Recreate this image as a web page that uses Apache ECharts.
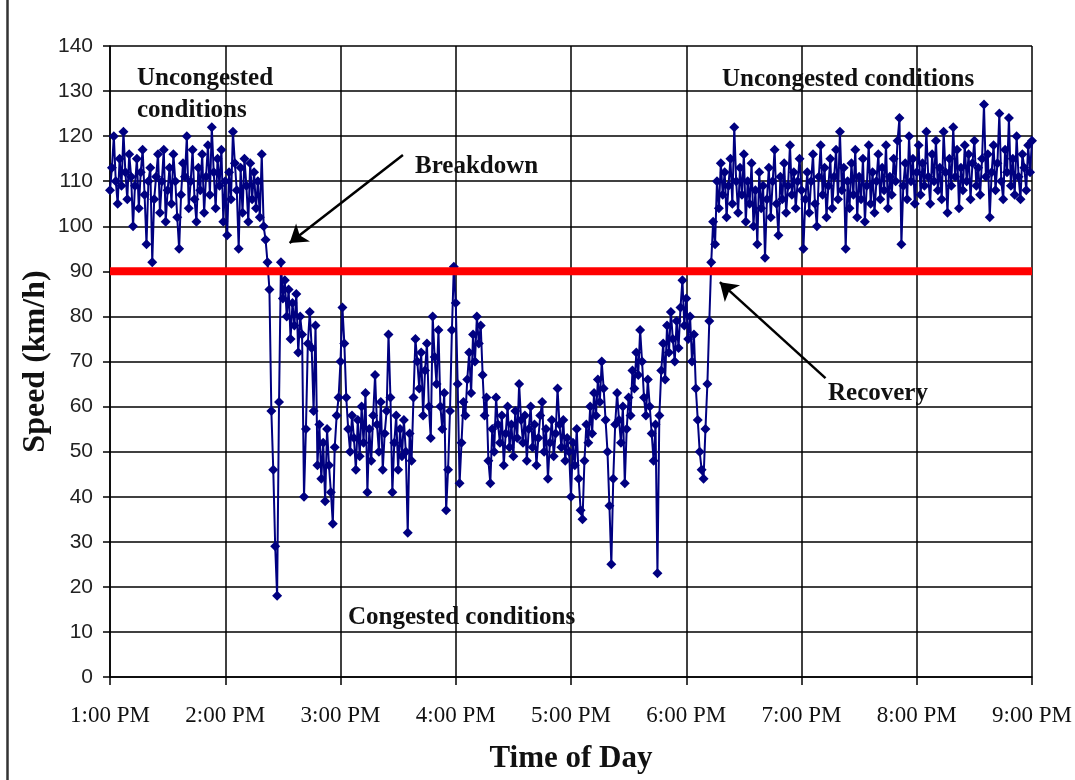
<!DOCTYPE html>
<html>
<head>
<meta charset="utf-8">
<script src="https://cdn.jsdelivr.net/npm/echarts@6/dist/echarts.min.js"></script>
<style>
  html, body { margin: 0; padding: 0; background: #fff; }
  #chart { width: 1075px; height: 780px; }
</style>
</head>
<body>
<div id="chart"></div>
<script>
// Tick labels (x axis: minutes after 1:00 PM, one label per hour)
const timeLabels = ['1:00 PM','2:00 PM','3:00 PM','4:00 PM','5:00 PM','6:00 PM','7:00 PM','8:00 PM','9:00 PM'];

// Speed (km/h), one reading per minute, split by hour
const speed1pm = [108,113,120,110,105,115,109,121,112,106, 116,111,100,109,115,104,112,117,107,96,
                  110,113,92,106,111,116,103,110,117,101, 108,113,105,116,110,102,95,107,114,111,
                  120,104,110,117,106,101,113,108,116,103, 111,118,107,122,112,104,115,109,117,101];
const speed2pm = [110,98,112,106,121,114,108,95,113,103, 115,109,101,114,106,112,104,110,102,116,
                  100,97,92,86,59,46,29,18,61,92, 84,88,80,86,75,83,78,85,72,80,
                  76,40,55,74,81,73,59,78,47,56, 44,52,39,55,47,41,34,51,58,62];
const speed3pm = [70,82,74,62,55,50,58,53,46,57, 49,60,52,63,41,55,48,58,67,56,
                  50,61,46,54,59,76,62,41,52,58, 46,55,49,57,50,32,54,48,62,75,
                  70,64,72,58,68,74,60,53,80,71, 65,77,60,55,63,37,46,59,77,91];
const speed4pm = [83,65,43,52,61,58,66,72,63,76, 70,80,74,78,67,58,62,48,43,55,
                  50,62,56,52,58,47,54,60,51,56, 49,59,53,65,57,52,58,48,55,60,
                  51,56,47,53,58,61,50,55,44,52, 57,49,54,64,56,51,57,48,53,50];
const speed5pm = [40,52,47,55,44,37,35,48,56,52, 60,54,63,58,66,61,70,64,57,50,
                  38,25,44,56,63,57,52,60,43,55, 62,58,68,64,72,67,77,70,62,58,
                  66,60,54,48,56,23,58,68,74,66, 78,72,81,75,70,79,73,82,88,78];
const speed6pm = [84,75,80,70,76,64,57,50,46,44, 55,65,79,92,101,96,110,104,114,107,
                  112,102,109,115,105,122,110,103,113,107, 116,101,110,105,114,100,108,96,112,104,
                  109,93,106,113,102,110,117,105,98,111, 106,114,103,109,118,107,112,104,110,115];
const speed7pm = [108,95,106,112,103,110,116,105,100,111, 118,107,113,102,109,115,104,111,117,106,
                  121,108,113,95,110,104,114,107,117,102, 111,106,115,101,109,118,105,112,103,110,
                  116,106,113,108,118,104,111,107,115,110, 119,124,96,109,114,106,120,110,115,105];
const speed8pm = [112,118,107,114,109,121,111,105,116,110, 119,108,113,106,121,112,103,115,109,122,
                  111,117,104,113,108,118,110,116,106,114, 119,109,113,107,115,127,111,116,102,112,
                  118,108,114,125,110,106,117,112,124,109, 115,107,120,111,106,116,113,108,118,112,
                  119];

const threshold = 90;

const speeds = [].concat(speed1pm, speed2pm, speed3pm, speed4pm, speed5pm, speed6pm, speed7pm, speed8pm);
const points = speeds.map((v, i) => [i, v]);

const serif = '"Liberation Serif", "Times New Roman", serif';
const sans = '"Liberation Sans", Arial, sans-serif';

const chart = echarts.init(document.getElementById('chart'), null, { renderer: 'canvas' });

function note(text, left, cy) {
  return {
    type: 'text', left: left, top: cy - 13, z: 100,
    style: { text: text, font: 'bold 25px ' + serif, fill: '#111' }
  };
}

chart.setOption({
  animation: false,
  backgroundColor: '#fff',
  grid: { left: 110, right: 43, top: 46, bottom: 103, containLabel: false },
  xAxis: {
    type: 'value', min: 0, max: 480, interval: 60,
    name: 'Time of Day', nameLocation: 'middle', nameGap: 66, nameMoveOverlap: false,
    nameTextStyle: { fontFamily: serif, fontWeight: 'bold', fontSize: 31, color: '#111' },
    axisLine: { show: true, onZero: false, lineStyle: { color: '#000', width: 1.5 } },
    axisTick: { show: true, inside: false, length: 8, lineStyle: { color: '#000', width: 1.5 } },
    axisLabel: {
      margin: 27, fontFamily: serif, fontSize: 23, color: '#111',
      formatter: v => timeLabels[Math.round(v / 60)]
    },
    splitLine: { show: true, lineStyle: { color: '#000', width: 1.5 } }
  },
  yAxis: {
    type: 'value', min: 0, max: 140, interval: 10,
    name: 'Speed (km/h)', nameLocation: 'middle', nameGap: 58, nameRotate: 90, nameMoveOverlap: false,
    nameTextStyle: { fontFamily: serif, fontWeight: 'bold', fontSize: 32, color: '#111' },
    axisLine: { show: true, lineStyle: { color: '#000', width: 1.5 } },
    axisTick: { show: true, inside: false, length: 7, lineStyle: { color: '#000', width: 1.5 } },
    axisLabel: { margin: 17, fontFamily: sans, fontSize: 21, color: '#222' },
    splitLine: { show: true, lineStyle: { color: '#000', width: 1.5 } }
  },
  series: [
    {
      type: 'line', data: points,
      symbol: 'diamond', symbolSize: 10, showSymbol: true, showAllSymbol: true,
      lineStyle: { color: '#000080', width: 2 },
      itemStyle: { color: '#000080' },
      z: 3, silent: true
    },
    {
      type: 'line', data: [[0, threshold], [480, threshold]],
      symbol: 'none', lineStyle: { color: '#ff0000', width: 8 },
      z: 5, silent: true,
      markLine: {
        silent: true, animation: false,
        symbol: ['none', 'arrow'], symbolSize: 17,
        label: { show: false },
        lineStyle: { color: '#000', width: 2.5, type: 'solid' },
        data: [
          [{ coord: [152.5, 115.8] }, { coord: [93.5, 96.3] }],
          [{ coord: [372.5, 66.3] }, { coord: [317.5, 87.6] }]
        ]
      }
    }
  ],
  graphic: [
    { type: 'line', shape: { x1: 7.5, y1: 0, x2: 7.5, y2: 780 }, style: { stroke: '#333', lineWidth: 2.5 } },
    note('Uncongested', 137, 79),
    note('conditions', 137, 111),
    note('Breakdown', 415, 167),
    note('Uncongested conditions', 722, 80),
    note('Recovery', 828, 394),
    note('Congested conditions', 348, 618)
  ]
});
</script>
</body>
</html>
